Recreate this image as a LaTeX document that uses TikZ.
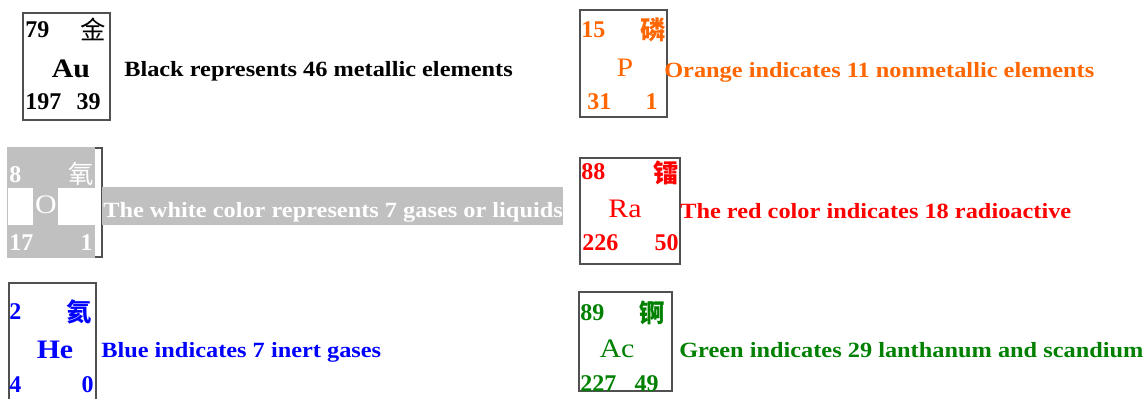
\documentclass[tikz,border=0pt]{standalone}
\usepackage{fontspec}
\setmainfont{Liberation Serif}[FakeStretch=1.12]
\newfontfamily\plainserif{Liberation Serif}
\newfontfamily\cjk{Noto Sans CJK SC}
\definecolor{cBlack}{RGB}{0,0,0}
\definecolor{cGray}{RGB}{192,192,192}
\definecolor{cBlue}{RGB}{0,0,255}
\definecolor{cOrange}{RGB}{255,102,0}
\definecolor{cRed}{RGB}{255,0,0}
\definecolor{cGreen}{RGB}{0,128,0}
\definecolor{cBorder}{RGB}{80,80,80}
\tikzset{
  lbl/.style={anchor=base west, inner sep=0pt, font=\bfseries\fontsize{16.3}{18}\selectfont},
  numl/.style={anchor=base west, inner sep=0pt, font=\plainserif\bfseries\fontsize{18}{20}\selectfont},
  numr/.style={anchor=base east, inner sep=0pt, font=\plainserif\bfseries\fontsize{18}{20}\selectfont},
  sym/.style={anchor=base, inner sep=0pt, font=\fontsize{20}{22}\selectfont},
  bsym/.style={anchor=base, inner sep=0pt, font=\bfseries\fontsize{20}{22}\selectfont},
  cjkc/.style={anchor=base east, inner sep=0pt, font=\cjk\fontsize{19}{21}\selectfont},
  bcjk/.style={anchor=base east, inner sep=0pt, font=\cjk\bfseries\fontsize{19}{21}\selectfont},
  elbox/.style={draw=cBorder, line width=1.1pt},
}
\begin{document}
\begin{tikzpicture}[x=0.75pt, y=-0.75pt]
\useasboundingbox (0,0) rectangle (1145,399);
% ---------- Au (black) ----------
\draw[elbox] (23,13) rectangle (110,120);
\node[numl, text=cBlack] (au1) at (25,38) {79};
\node[cjkc, text=cBlack] (au2) at (106,40) {金};
\node[bsym, text=cBlack] (au3) at (71,78) {Au};
\node[numl, text=cBlack] (au4) at (25,110) {197};
\node[numr, text=cBlack] (au5) at (101,110) {39};
\node[lbl, text=cBlack] (l1) at (124,77) {Black represents 46 metallic elements};
% ---------- O (white on gray) ----------
\draw[elbox] (8,148) rectangle (102,257);
\fill[cGray] (7,147) rectangle (95,258);
\fill[white] (8,188) rectangle (33,225);
\fill[white] (58,188) rectangle (95,225);
\node[numl, text=white] (o1) at (9,182) {8};
\node[cjkc, text=white] (o2) at (94,184) {氧};
\node[sym, text=white] (o3) at (46,213) {O};
\node[numl, text=white] (o4) at (9,250) {17};
\node[numr, text=white] (o5) at (93,250) {1};
\fill[cGray] (102,187) rectangle (563,225);
\node[lbl, text=white] (l2) at (103,217) {The white color represents 7 gases or liquids};
% ---------- He (blue) ----------
\draw[elbox] (9,283) rectangle (96,402);
\node[numl, text=cBlue] (he1) at (9,319) {2};
\node[bcjk, text=cBlue] (he2) at (92,321) {氦};
\node[bsym, text=cBlue] (he3) at (55,358) {He};
\node[numl, text=cBlue] (he4) at (9,392) {4};
\node[numr, text=cBlue] (he5) at (94,392) {0};
\node[lbl, text=cBlue] (l3) at (101,357) {Blue indicates 7 inert gases};
% ---------- P (orange) ----------
\draw[elbox] (580,10) rectangle (667,117);
\node[numl, text=cOrange] (p1) at (581,38) {15};
\node[bcjk, text=cOrange] (p2) at (666,40) {磷};
\node[sym, text=cOrange] (p3) at (625,77) {P};
\node[numl, text=cOrange] (p4) at (587,110) {31};
\node[numr, text=cOrange] (p5) at (658,110) {1};
\node[lbl, text=cOrange] (l4) at (664,78) {Orange indicates 11 nonmetallic elements};
% ---------- Ra (red) ----------
\draw[elbox] (580,158) rectangle (680,264);
\node[numl, text=cRed] (r1) at (581,180) {88};
\node[bcjk, text=cRed] (r2) at (679,182) {镭};
\node[sym, text=cRed] (r3) at (625,217) {Ra};
\node[numl, text=cRed] (r4) at (582,250) {226};
\node[numr, text=cRed] (r5) at (679,250) {50};
\node[lbl, text=cRed] (l5) at (680,218) {The red color indicates 18 radioactive};
% ---------- Ac (green) ----------
\draw[elbox] (579,292) rectangle (672,391);
\node[numl, text=cGreen] (a1) at (580,320) {89};
\node[bcjk, text=cGreen] (a2) at (665,322) {锕};
\node[sym, text=cGreen] (a3) at (617,357) {Ac};
\node[numl, text=cGreen] (a4) at (580,391) {227};
\node[numr, text=cGreen] (a5) at (659,391) {49};
\node[lbl, text=cGreen] (l6) at (679,357) {Green indicates 29 lanthanum and scandium};
\end{tikzpicture}
\end{document}
